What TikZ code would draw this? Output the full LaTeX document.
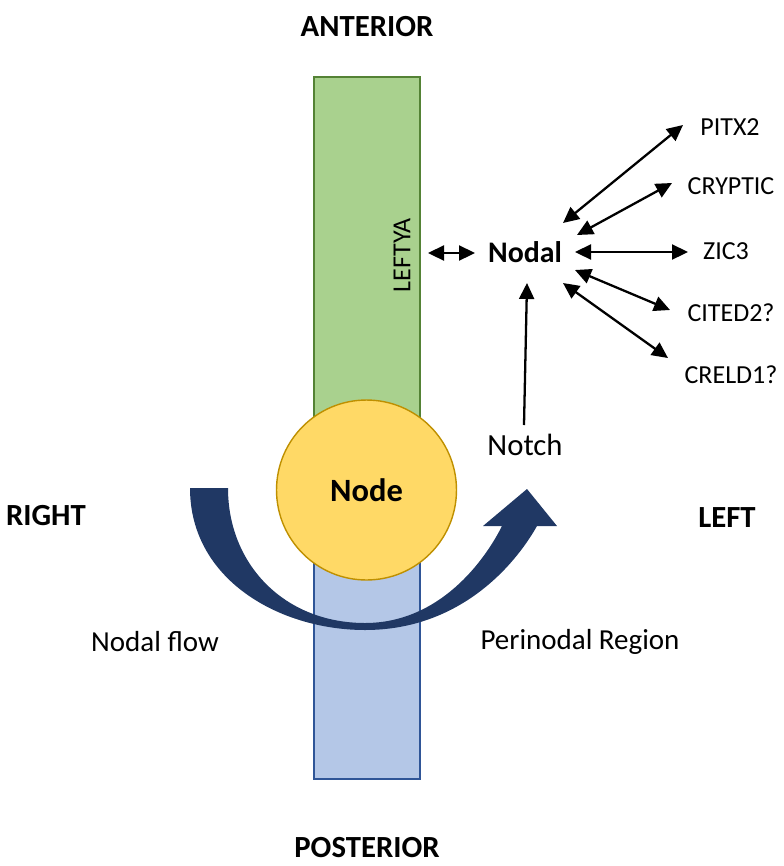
\documentclass[tikz,border=0pt]{standalone}
\usepackage{fontspec}
\setmainfont{Carlito}
\usetikzlibrary{arrows.meta}

\definecolor{leftgreen}{HTML}{A9D18E}
\definecolor{leftedge}{HTML}{548235}
\definecolor{postblue}{HTML}{B4C7E7}
\definecolor{postedge}{HTML}{2F5597}
\definecolor{nodeyellow}{HTML}{FFD966}
\definecolor{nodeedge}{HTML}{BF9000}
\definecolor{flownavy}{HTML}{203864}

\begin{document}
\begin{tikzpicture}[x=0.02cm,y=-0.02cm,
  axis/.style={font=\fontsize{17.5}{20}\selectfont\bfseries},
  side/.style={font=\fontsize{16.5}{19}\selectfont},
  gene/.style={font=\fontsize{14.8}{17}\selectfont},
  link/.style={line width=1.3pt,{Triangle[length=0.32cm,width=0.3cm]}-{Triangle[length=0.32cm,width=0.3cm]}}]
  \useasboundingbox (0,0) rectangle (784,866);
  % midline
  \draw[leftedge, fill=leftgreen, line width=0.8pt] (314,77) rectangle (420,490);
  \draw[postedge, fill=postblue, line width=0.8pt] (314,490) rectangle (420,779);
  \node[circle, draw=nodeedge, fill=nodeyellow, line width=0.8pt, minimum size=3.6cm,
    font=\fontsize{18.5}{21}\selectfont\bfseries] (node) at (366.5,490) {Node};
  % nodal flow
  \fill[flownavy] (190,488) .. controls (190,580) and (280,630) .. (365,630)
    .. controls (460,630) and (515,565) .. (537,526) -- (557,526) -- (527,489) -- (483,526)
    -- (502,526) .. controls (485,560) and (440,623) .. (365,623)
    .. controls (285,623) and (228,565) .. (228,488) -- cycle;
  \node[axis] (ant) at (367,27) {ANTERIOR};
  \node[axis] (post) at (367,848) {POSTERIOR};
  \node[axis] (right) at (46,516) {RIGHT};
  \node[axis] (left) at (727,518) {LEFT};
  \node[side] (flow) at (155,642) {Nodal flow};
  \node[side] (peri) at (580,642) {Perinodal Region};
  \node[gene, rotate=90] (lefty) at (402,255) {LEFTYA};
  \node[font=\fontsize{17}{20}\selectfont\bfseries] (nodal) at (525,252) {Nodal};
  \node[font=\fontsize{17.5}{20}\selectfont] (notch) at (525,445) {Notch};
  \draw[link] ([shift={(26,-2)}]lefty.center) -- ([shift={(-50,1)}]nodal.center);
  \draw[link, {Triangle[length=0.32cm,width=0.3cm]}-] ([shift={(2,31)}]nodal.center) -- ([shift={(-1,-20)}]notch.center);
  \foreach \n/\t/\x/\y/\sx/\sy/\ex/\ey in {pitx/PITX2/730/127/38/-29/-47/-2,
      cryptic/CRYPTIC/731/186/52/-17/-59/-3, zic/ZIC3/726/251/50/0/-38/1,
      cited/CITED2?/731/313/50/18/-61/-3, creld/CRELD1?/731/375/38/31/-63/-17} {
    \node[gene] (\n) at (\x,\y) {\t};
    \draw[link] ([shift={(\sx,\sy)}]nodal.center) -- ([shift={(\ex,\ey)}]\n.center);
  }
\end{tikzpicture}
\end{document}
